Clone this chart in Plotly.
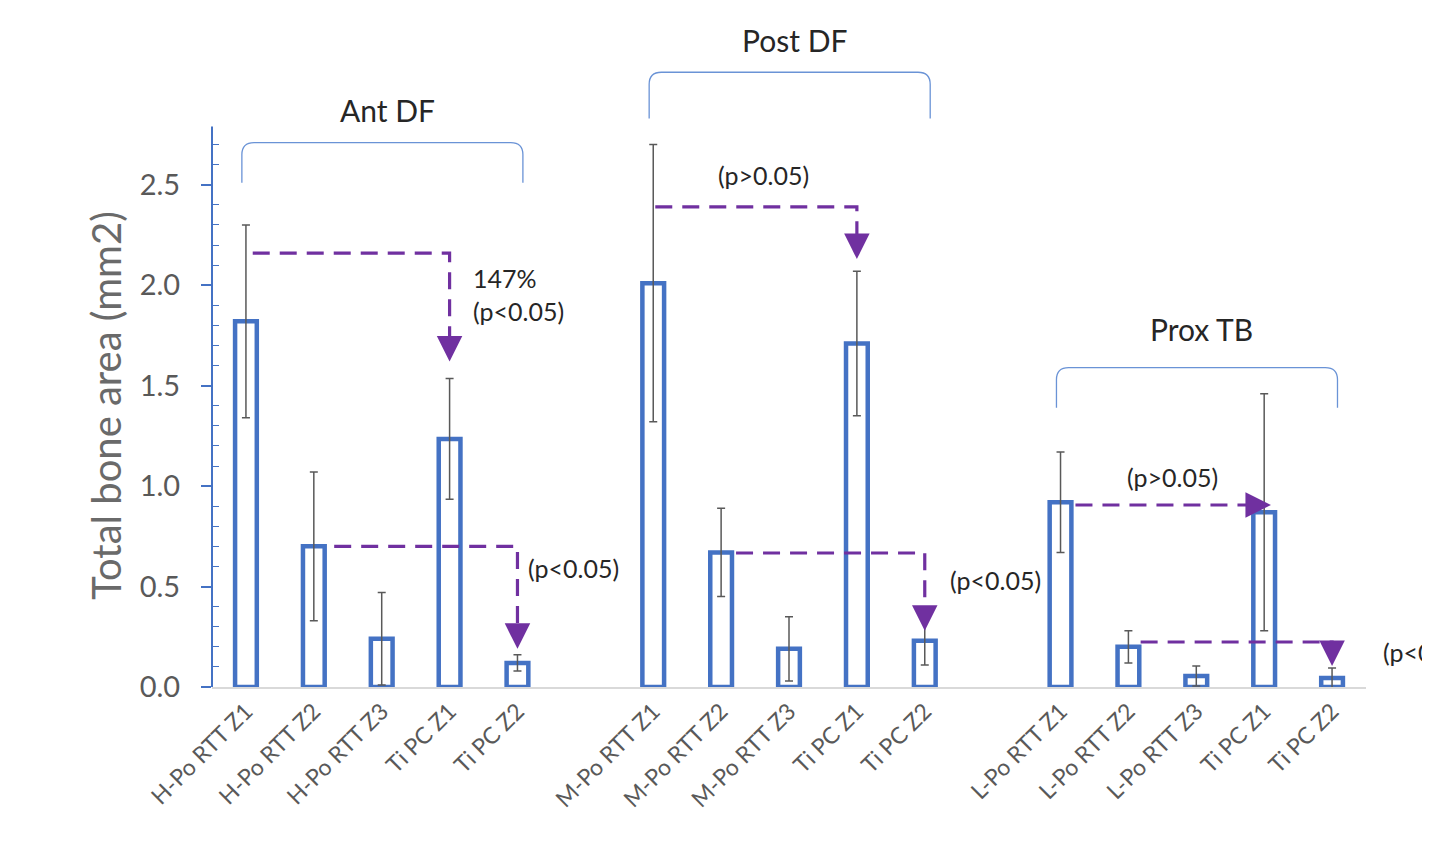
import plotly.graph_objects as go

# ---------------- data ----------------
groups = ["Ant DF", "Post DF", "Prox TB"]
labels_ant = ["H-Po RTT Z1", "H-Po RTT Z2", "H-Po RTT Z3", "Ti PC Z1", "Ti PC Z2"]
labels_post = ["M-Po RTT Z1", "M-Po RTT Z2", "M-Po RTT Z3", "Ti PC Z1", "Ti PC Z2"]
labels_prox = ["L-Po RTT Z1", "L-Po RTT Z2", "L-Po RTT Z3", "Ti PC Z1", "Ti PC Z2"]

values_ant = [1.82, 0.70, 0.24, 1.235, 0.12]
values_post = [2.01, 0.67, 0.19, 1.71, 0.23]
values_prox = [0.92, 0.20, 0.055, 0.87, 0.045]

err_ant = [0.48, 0.37, 0.23, 0.30, 0.04]
err_post = [0.69, 0.22, 0.16, 0.36, 0.12]
err_prox = [0.25, 0.08, 0.05, 0.59, 0.05]

y_tick_vals = [0.0, 0.5, 1.0, 1.5, 2.0, 2.5]
y_tick_text = ["0.0", "0.5", "1.0", "1.5", "2.0", "2.5"]

# comparison annotations: (group, from bar, to bar, text)
comparisons = [
    (0, 0, 3, "147%<br>(p<0.05)"),
    (0, 1, 4, "(p<0.05)"),
    (1, 0, 3, "(p>0.05)"),
    (1, 1, 4, "(p<0.05)"),
    (2, 0, 3, "(p>0.05)"),
    (2, 1, 4, "(p<0.05)"),
]

# ---------------- layout helpers ----------------
BLUE = "#4472C4"
PURPLE = "#7030A0"
GRAY = "#595959"
TXT = "#262626"
FONT = "Lato"
SLOT = 6  # 5 bars + 1 gap per group
XMIN, XMAX = -0.5, 16.5
YMAX = 3.32

all_labels = [labels_ant, labels_post, labels_prox]
all_vals = [values_ant, values_post, values_prox]
all_errs = [err_ant, err_post, err_prox]


def xpos(g, i):
    return g * SLOT + i


xs, ys, es, ticks_x, ticks_t = [], [], [], [], []
for g in range(3):
    for i in range(5):
        xs.append(xpos(g, i))
        ys.append(all_vals[g][i])
        es.append(all_errs[g][i])
        ticks_x.append(xpos(g, i))
        ticks_t.append(all_labels[g][i])

fig = go.Figure()
fig.add_trace(go.Bar(
    x=xs, y=ys, width=0.32,
    marker=dict(color="white", line=dict(color=BLUE, width=4.5)),
    error_y=dict(type="data", array=es, color=GRAY, thickness=1.5, width=4),
    showlegend=False,
))

shapes = []
annotations = []

# y axis line (drawn only up to the top of the scale)
shapes.append(dict(type="line", xref="paper", yref="y", x0=0, x1=0, y0=0, y1=2.79,
                   line=dict(color=BLUE, width=2)))

# group brackets + labels
bracket_tops = [2.71, 3.06, 1.59]
bracket_ends = [2.51, 2.83, 1.39]
label_y = [2.87, 3.22, 1.78]
for g in range(3):
    x0 = xpos(g, 0) - 0.06
    x1 = xpos(g, 4) + 0.08
    yt, yb = bracket_tops[g], bracket_ends[g]
    rx, ry = 0.18, 0.06
    path = (f"M {x0},{yb} L {x0},{yt - ry} Q {x0},{yt} {x0 + rx},{yt} "
            f"L {x1 - rx},{yt} Q {x1},{yt} {x1},{yt - ry} L {x1},{yb}")
    shapes.append(dict(type="path", xref="x", yref="y", path=path,
                       line=dict(color="#6A93D6", width=1.3)))
    annotations.append(dict(x=(x0 + x1) / 2 + 0.07, y=label_y[g], xref="x", yref="y",
                            text=groups[g], showarrow=False,
                            font=dict(family=FONT, size=30, color=TXT)))

# comparison arrows
line_y = [2.16, 0.70, 2.39, 0.667, 0.906, 0.224]
start_off = [0.1, 0.3, 0.03, 0.22, 0.22, 0.18]
tip_y = [1.62, 0.19, 2.13, 0.28, None, 0.105]
text_pos = [  # (x in category units, y, xanchor)
    (3.32, 1.955, "left"),
    (4.13, 0.59, "left"),
    (7.63, 2.55, "center"),
    (10.34, 0.533, "left"),
    (13.65, 1.046, "center"),
    (16.72, 0.174, "left"),
]


def to_paper(xc):
    return (xc - XMIN) / (XMAX - XMIN)


for k, (g, a, b, txt) in enumerate(comparisons):
    xa = xpos(g, a) + start_off[k]
    xb = xpos(g, b)
    yl = line_y[k]
    dash = dict(color=PURPLE, width=3.2, dash="17px,10px")
    head = dict(text="", showarrow=True, arrowhead=2, arrowsize=1.7, arrowwidth=3,
                arrowcolor=PURPLE, standoff=0, startstandoff=0,
                xref="x", yref="y", axref="x", ayref="y")
    if tip_y[k] is None:
        tip_x = xb + 0.1
        base_x = tip_x - 0.32
        shapes.append(dict(type="line", xref="x", yref="y", x0=xa, x1=base_x,
                           y0=yl, y1=yl, line=dash))
        annotations.append(dict(x=tip_x, y=yl, ax=base_x, ay=yl, **head))
    else:
        ty = tip_y[k]
        base_y = ty + 0.1
        shapes.append(dict(type="path", xref="x", yref="y",
                           path=f"M {xa},{yl} L {xb},{yl} L {xb},{base_y}",
                           line=dash))
        annotations.append(dict(x=xb, y=ty, ax=xb, ay=base_y, **head))
    tx, ty2, anc = text_pos[k]
    annotations.append(dict(x=to_paper(tx), xref="paper", y=ty2, yref="y",
                            text=txt, showarrow=False, xanchor=anc, align="left",
                            font=dict(family=FONT, size=25, color=TXT)))

# y axis title as annotation
annotations.append(dict(x=0, xref="paper", xshift=-106, xanchor="center",
                        y=1.40, yref="y", yanchor="middle",
                        text="Total bone area (mm2)", textangle=-90, showarrow=False,
                        font=dict(family=FONT, size=40, color="#6A6A6A")))

minor_vals = [round(v * 0.1, 1) for v in range(1, 28) if v % 5 != 0]

# the page body adds an 8px offset; size the figure to fill the remaining window
fig.update_layout(
    width=1422, height=834,
    margin=dict(l=204, r=64, t=12, b=155, autoexpand=False),
    paper_bgcolor="white", plot_bgcolor="white",
    shapes=shapes, annotations=annotations,
    xaxis=dict(range=[XMIN, XMAX], tickmode="array", tickvals=ticks_x, ticktext=ticks_t,
               tickangle=-45, ticks="", showgrid=False, zeroline=False, automargin=False,
               showline=True, linecolor="#D9D9D9", linewidth=1.5,
               tickfont=dict(family=FONT, size=23, color=GRAY)),
    yaxis=dict(range=[0, YMAX], tickmode="array", tickvals=y_tick_vals, ticktext=y_tick_text,
               ticks="outside", ticklen=10, tickwidth=1.5, tickcolor=BLUE,
               ticklabelstandoff=15, automargin=False,
               minor=dict(tickmode="array", tickvals=minor_vals, ticks="inside",
                          ticklen=7, tickwidth=1.2, tickcolor=BLUE),
               showgrid=False, zeroline=False, showline=False,
               tickfont=dict(family=FONT, size=29, color=GRAY)),
)

fig.write_html("out.html")
